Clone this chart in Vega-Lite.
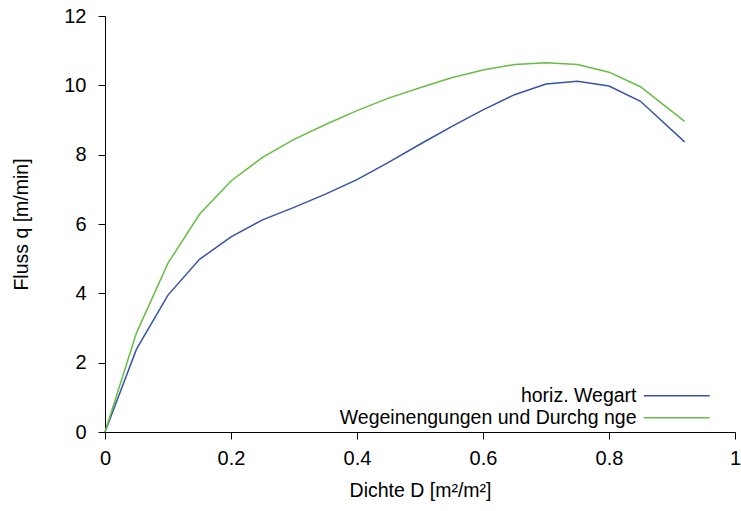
{
  "$schema": "https://vega.github.io/schema/vega-lite/v6.json",
  "autosize": "none",
  "width": 630,
  "height": 416,
  "padding": {"left": 105, "top": 16, "right": 6, "bottom": 79},
  "background": "white",
  "config": {
    "font": "Liberation Sans",
    "view": {"stroke": null},
    "axis": {
      "grid": false,
      "domainColor": "black",
      "tickColor": "black",
      "tickSize": 7,
      "labelFontSize": 20,
      "labelColor": "black",
      "labelFlush": false,
      "titleFontSize": 19.5,
      "titleFontWeight": "normal",
      "titleColor": "black"
    }
  },
  "data": {
    "values": [
      {"D": 0, "q": 0, "serie": "horiz. Wegart"},
      {"D": 0.05, "q": 2.39, "serie": "horiz. Wegart"},
      {"D": 0.1, "q": 3.95, "serie": "horiz. Wegart"},
      {"D": 0.15, "q": 4.98, "serie": "horiz. Wegart"},
      {"D": 0.2, "q": 5.63, "serie": "horiz. Wegart"},
      {"D": 0.25, "q": 6.12, "serie": "horiz. Wegart"},
      {"D": 0.3, "q": 6.48, "serie": "horiz. Wegart"},
      {"D": 0.35, "q": 6.86, "serie": "horiz. Wegart"},
      {"D": 0.4, "q": 7.28, "serie": "horiz. Wegart"},
      {"D": 0.45, "q": 7.78, "serie": "horiz. Wegart"},
      {"D": 0.5, "q": 8.3, "serie": "horiz. Wegart"},
      {"D": 0.55, "q": 8.81, "serie": "horiz. Wegart"},
      {"D": 0.6, "q": 9.29, "serie": "horiz. Wegart"},
      {"D": 0.65, "q": 9.73, "serie": "horiz. Wegart"},
      {"D": 0.7, "q": 10.04, "serie": "horiz. Wegart"},
      {"D": 0.75, "q": 10.12, "serie": "horiz. Wegart"},
      {"D": 0.8, "q": 9.98, "serie": "horiz. Wegart"},
      {"D": 0.85, "q": 9.54, "serie": "horiz. Wegart"},
      {"D": 0.92, "q": 8.37, "serie": "horiz. Wegart"},
      {"D": 0, "q": 0, "serie": "Wegeinengungen und Durchg nge"},
      {"D": 0.05, "q": 2.86, "serie": "Wegeinengungen und Durchg nge"},
      {"D": 0.1, "q": 4.87, "serie": "Wegeinengungen und Durchg nge"},
      {"D": 0.15, "q": 6.28, "serie": "Wegeinengungen und Durchg nge"},
      {"D": 0.2, "q": 7.24, "serie": "Wegeinengungen und Durchg nge"},
      {"D": 0.25, "q": 7.92, "serie": "Wegeinengungen und Durchg nge"},
      {"D": 0.3, "q": 8.44, "serie": "Wegeinengungen und Durchg nge"},
      {"D": 0.35, "q": 8.87, "serie": "Wegeinengungen und Durchg nge"},
      {"D": 0.4, "q": 9.27, "serie": "Wegeinengungen und Durchg nge"},
      {"D": 0.45, "q": 9.63, "serie": "Wegeinengungen und Durchg nge"},
      {"D": 0.5, "q": 9.93, "serie": "Wegeinengungen und Durchg nge"},
      {"D": 0.55, "q": 10.22, "serie": "Wegeinengungen und Durchg nge"},
      {"D": 0.6, "q": 10.44, "serie": "Wegeinengungen und Durchg nge"},
      {"D": 0.65, "q": 10.6, "serie": "Wegeinengungen und Durchg nge"},
      {"D": 0.7, "q": 10.65, "serie": "Wegeinengungen und Durchg nge"},
      {"D": 0.75, "q": 10.6, "serie": "Wegeinengungen und Durchg nge"},
      {"D": 0.8, "q": 10.38, "serie": "Wegeinengungen und Durchg nge"},
      {"D": 0.85, "q": 9.96, "serie": "Wegeinengungen und Durchg nge"},
      {"D": 0.92, "q": 8.96, "serie": "Wegeinengungen und Durchg nge"}
    ]
  },
  "mark": {"type": "line", "strokeWidth": 1.5},
  "encoding": {
    "x": {
      "field": "D",
      "type": "quantitative",
      "scale": {"domain": [0, 1], "nice": false, "zero": true},
      "axis": {"values": [0, 0.2, 0.4, 0.6, 0.8, 1], "format": "~g", "labelPadding": 9, "title": "Dichte D [m²/m²]", "titlePadding": 13}
    },
    "y": {
      "field": "q",
      "type": "quantitative",
      "scale": {"domain": [0, 12], "nice": false},
      "axis": {"values": [0, 2, 4, 6, 8, 10, 12], "labelPadding": 12, "title": "Fluss q [m/min]", "titlePadding": 32}
    },
    "color": {
      "field": "serie",
      "type": "nominal",
      "scale": {"domain": ["horiz. Wegart", "Wegeinengungen und Durchg nge"], "range": ["#3653a6", "#67bd45"]},
      "legend": {
        "title": null,
        "orient": "none",
        "direction": "vertical",
        "legendX": 562,
        "legendY": 370,
        "symbolType": "M-4,0H4",
        "symbolSize": 272,
        "symbolStrokeWidth": 1.5,
        "labelAlign": "right",
        "labelOffset": -50,
        "labelFontSize": 19.5,
        "labelColor": "black",
        "labelLimit": 500,
        "rowPadding": 1
      }
    }
  }
}
